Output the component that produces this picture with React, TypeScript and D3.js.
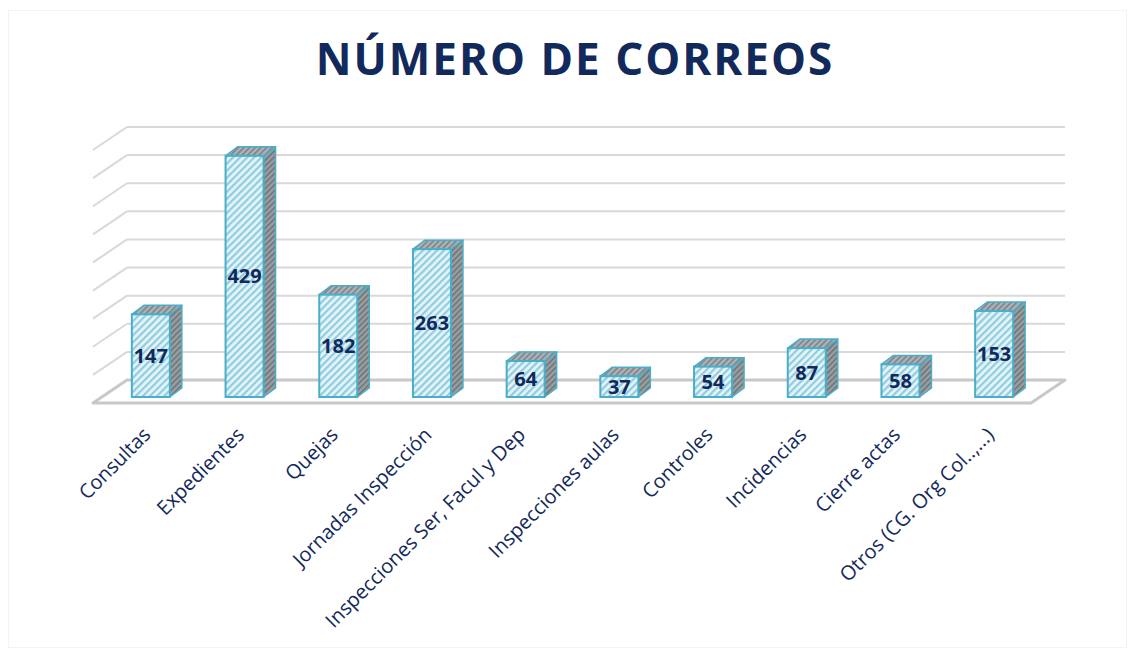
import React from "react";
import * as d3 from "d3";

const categories = [
  "Consultas",
  "Expedientes",
  "Quejas",
  "Jornadas Inspección",
  "Inspecciones Ser, Facul y Dep",
  "Inspecciones aulas",
  "Controles",
  "Incidencias",
  "Cierre actas",
  "Otros (CG. Org Col..,...)",
];
const values = [147, 429, 182, 263, 64, 37, 54, 87, 58, 153];
const gridTicks = [0, 50, 100, 150, 200, 250, 300, 350, 400, 450];
const title = "NÚMERO DE CORREOS";

const W = 1135;
const H = 655;

export default function App() {
  const x = d3.scalePoint<string>().domain(categories).range([104, 1041]).padding(0.5);
  const yBack = d3.scaleLinear().domain([0, 450]).range([380, 127]);
  const yFront = d3.scaleLinear().domain([0, 450]).range([397, 144]);
  const wallLeft = 127;
  const wallRight = 1065;
  const sideDx = -34;
  const sideDy = 23;
  const barW = 38;
  const depX = 12;
  const depY = -9;
  const navy = "#12295c";
  const teal = "#4aaec8";

  return (
    <svg width={W} height={H} style={{ display: "block", position: "absolute", left: 0, top: 0 }}>
      <defs>
        <pattern id="pFront" patternUnits="userSpaceOnUse" width="5" height="5" patternTransform="rotate(45)">
          <rect width="5" height="5" fill="#e6f4f9" />
          <rect width="2.2" height="5" fill="#8fcde0" />
        </pattern>
        <pattern id="pSide" patternUnits="userSpaceOnUse" width="4" height="4" patternTransform="rotate(45)">
          <rect width="4" height="4" fill="#9a9fa3" />
          <rect width="1.6" height="4" fill="#6c7478" />
        </pattern>
        <pattern id="pTop" patternUnits="userSpaceOnUse" width="4" height="4" patternTransform="rotate(45)">
          <rect width="4" height="4" fill="#aeb3b6" />
          <rect width="1.6" height="4" fill="#7a8287" />
        </pattern>
      </defs>
      <rect x={0} y={0} width={W} height={H} fill="#ffffff" />
      <rect x={8.5} y={10.5} width={1118} height={637} fill="none" stroke="#f3f3f3" strokeWidth={1} />

      <text
        x={575}
        y={75}
        textAnchor="middle"
        fontFamily="'Open Sans', sans-serif"
        fontWeight={700}
        fontSize={44}
        fill={navy}
        letterSpacing={2}
      >
        {title}
      </text>

      {/* floor */}
      <polygon
        points={`${wallLeft},${yBack(0)} ${wallRight},${yBack(0)} ${wallRight + sideDx},${yBack(0) + sideDy} ${wallLeft + sideDx},${yBack(0) + sideDy}`}
        fill="#ffffff"
        stroke="#c8c8c8"
        strokeWidth={3}
        strokeLinejoin="round"
      />

      {/* gridlines: back wall + side wall */}
      {gridTicks.slice(1).map((t) => (
        <g key={t}>
          <line x1={wallLeft} x2={wallRight} y1={yBack(t)} y2={yBack(t)} stroke="#d9d9d9" strokeWidth={2} />
          <line x1={wallLeft} x2={wallLeft + sideDx} y1={yBack(t)} y2={yBack(t) + sideDy} stroke="#d9d9d9" strokeWidth={2} />
        </g>
      ))}

      {/* bars */}
      {categories.map((c, i) => {
        const cx = x(c) as number;
        const x0 = cx - barW / 2;
        const x1 = cx + barW / 2;
        const yt = yFront(values[i]);
        const yb = yFront(0);
        return (
          <g key={c}>
            <polygon
              points={`${x1},${yt} ${x1 + depX},${yt + depY} ${x1 + depX},${yb + depY} ${x1},${yb}`}
              fill="url(#pSide)"
              stroke={teal}
              strokeWidth={1.5}
              strokeLinejoin="round"
            />
            <polygon
              points={`${x0},${yt} ${x0 + depX},${yt + depY} ${x1 + depX},${yt + depY} ${x1},${yt}`}
              fill="url(#pTop)"
              stroke={teal}
              strokeWidth={1.5}
              strokeLinejoin="round"
            />
            <rect x={x0} y={yt} width={barW} height={yb - yt} fill="url(#pFront)" stroke={teal} strokeWidth={2} />
            <text
              x={cx}
              y={(yt + yb) / 2 + 7}
              textAnchor="middle"
              fontFamily="'Open Sans', sans-serif"
              fontWeight={700}
              fontSize={20}
              fill={navy}
            >
              {values[i]}
            </text>
          </g>
        );
      })}

      {/* category labels */}
      {categories.map((c) => {
        const cx = x(c) as number;
        const ax = cx + 1;
        const ay = 436;
        return (
          <text
            key={c}
            x={ax}
            y={ay}
            textAnchor="end"
            transform={`rotate(-45 ${ax} ${ay})`}
            fontFamily="'Open Sans', sans-serif"
            fontSize={20}
            fill={navy}
          >
            {c}
          </text>
        );
      })}
    </svg>
  );
}
